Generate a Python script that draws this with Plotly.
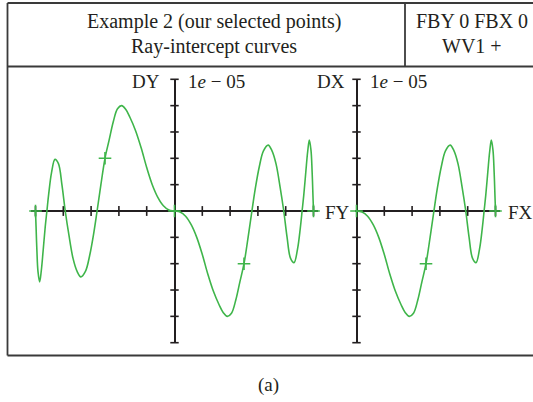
import plotly.graph_objects as go

# Relative field (FY) and transverse ray error DY (units of 1e-05)
FY = [-1.0, -0.996, -0.99, -0.982, -0.97, -0.958, -0.945, -0.93, -0.918, -0.905,
      -0.885, -0.86, -0.835, -0.81, -0.786, -0.76, -0.73, -0.70, -0.674, -0.64,
      -0.61, -0.58, -0.557, -0.53, -0.50, -0.47, -0.44, -0.41, -0.38, -0.35,
      -0.32, -0.28, -0.24, -0.20, -0.16, -0.12, -0.08, -0.04,
      0.0, 0.04, 0.08, 0.12, 0.16, 0.20, 0.24, 0.28, 0.32, 0.35, 0.38, 0.41,
      0.44, 0.47, 0.50, 0.53, 0.557, 0.58, 0.61, 0.64, 0.674, 0.70, 0.73, 0.76,
      0.786, 0.81, 0.835, 0.86, 0.885, 0.905, 0.918, 0.93, 0.945, 0.958, 0.97,
      0.982, 0.99, 0.996, 1.0]
DY = [0.0, -0.6, -1.5, -2.3, -2.69, -2.25, -1.5, -0.6, 0.0, 0.65,
      1.45, 1.96, 1.8, 1.0, 0.0, -0.9, -1.8, -2.3, -2.5, -2.28,
      -1.68, -0.81, 0.0, 0.98, 2.0, 2.7, 3.4, 3.88, 4.0, 3.85,
      3.55, 3.05, 2.4, 1.65, 1.0, 0.52, 0.2, 0.04,
      0.0, -0.04, -0.2, -0.52, -1.0, -1.65, -2.4, -3.05, -3.55, -3.85, -4.0, -3.88,
      -3.4, -2.7, -2.0, -0.98, 0.0, 0.81, 1.68, 2.28, 2.5, 2.3, 1.8, 0.9,
      0.0, -1.0, -1.8, -1.96, -1.45, -0.65, 0.0, 0.6, 1.5, 2.25, 2.69,
      2.3, 1.5, 0.6, 0.0]

# Relative field (FX) and transverse ray error DX (units of 1e-05)
FX = [0.0, 0.04, 0.08, 0.12, 0.16, 0.20, 0.24, 0.28, 0.32, 0.35, 0.38, 0.41,
      0.44, 0.47, 0.50, 0.53, 0.557, 0.58, 0.61, 0.64, 0.674, 0.70, 0.73, 0.76,
      0.786, 0.81, 0.835, 0.86, 0.885, 0.905, 0.918, 0.93, 0.945, 0.958, 0.97,
      0.982, 0.99, 0.996, 1.0]
DX = [0.0, -0.04, -0.2, -0.52, -1.0, -1.65, -2.4, -3.05, -3.55, -3.85, -4.0, -3.88,
      -3.4, -2.7, -2.0, -0.98, 0.0, 0.81, 1.68, 2.28, 2.5, 2.3, 1.8, 0.9,
      0.0, -1.0, -1.8, -1.96, -1.45, -0.65, 0.0, 0.6, 1.5, 2.25, 2.69,
      2.3, 1.5, 0.6, 0.0]

# Traced field points marked with "+"
FY_PTS = [-1.0, -0.5, 0.0, 0.5, 1.0]
DY_PTS = [0.0, 2.0, 0.0, -2.0, 0.0]
FX_PTS = [0.0, 0.5, 1.0]
DX_PTS = [0.0, -2.0, 0.0]

# Axis tick positions
FY_TICKS = [-1.0, -0.8, -0.6, -0.4, -0.2, 0.2, 0.4, 0.6, 0.8, 1.0]
FX_TICKS = [0.2, 0.4, 0.6, 0.8, 1.0]
D_TICKS = [-5, -4, -3, -2, -1, 1, 2, 3, 4, 5]

W, H = 533, 402
GREEN = "#3fb54a"
INK = "#231f20"
FONT = "Liberation Serif"


def px(x):
    return x / W


def py(y):
    return 1 - y / H


# pixel geometry of the two plotting panels
x0_left, x0_right, unit = 174.5, 356.5, 139.0
y_top, y_bot = 79.3, 342.7
pad = 0.03

fig = go.Figure()

# tick marks on the horizontal axes
fig.add_trace(go.Scatter(x=FY_TICKS, y=[0] * len(FY_TICKS), mode="markers",
                         marker=dict(symbol="line-ns", size=7, line=dict(color=INK, width=1.6)),
                         xaxis="x", yaxis="y", cliponaxis=False, hoverinfo="skip"))
fig.add_trace(go.Scatter(x=FX_TICKS, y=[0] * len(FX_TICKS), mode="markers",
                         marker=dict(symbol="line-ns", size=7, line=dict(color=INK, width=1.6)),
                         xaxis="x2", yaxis="y2", cliponaxis=False, hoverinfo="skip"))
# tick marks on the vertical axes
fig.add_trace(go.Scatter(x=[0] * len(D_TICKS), y=D_TICKS, mode="markers",
                         marker=dict(symbol="line-ew", size=6, line=dict(color=INK, width=1.6)),
                         xaxis="x", yaxis="y", cliponaxis=False, hoverinfo="skip"))
fig.add_trace(go.Scatter(x=[0] * len(D_TICKS), y=D_TICKS, mode="markers",
                         marker=dict(symbol="line-ew", size=6, line=dict(color=INK, width=1.6)),
                         xaxis="x2", yaxis="y2", cliponaxis=False, hoverinfo="skip"))

# ray-intercept curves
curve_line = dict(color=GREEN, width=1.6, shape="spline", smoothing=1.0)
fig.add_trace(go.Scatter(x=FY, y=DY, mode="lines", line=curve_line,
                         xaxis="x", yaxis="y", cliponaxis=False))
fig.add_trace(go.Scatter(x=FX, y=DX, mode="lines", line=curve_line,
                         xaxis="x2", yaxis="y2", cliponaxis=False))
plus = dict(symbol="cross-thin", size=9, line=dict(color=GREEN, width=1.6))
fig.add_trace(go.Scatter(x=FY_PTS, y=DY_PTS, mode="markers", marker=plus,
                         xaxis="x", yaxis="y", cliponaxis=False))
fig.add_trace(go.Scatter(x=FX_PTS, y=DX_PTS, mode="markers", marker=plus,
                         xaxis="x2", yaxis="y2", cliponaxis=False))

axis_common = dict(showgrid=False, showticklabels=False, ticks="", showline=False,
                   zeroline=True, zerolinecolor=INK, zerolinewidth=1.8, fixedrange=True)

fig.update_layout(
    width=W, height=H,
    margin=dict(l=0, r=0, t=0, b=0),
    paper_bgcolor="white", plot_bgcolor="rgba(0,0,0,0)",
    showlegend=False,
    xaxis=dict(domain=[px(x0_left - unit * (1 + pad)), px(x0_left + unit * (1 + pad))],
               range=[-1 - pad, 1 + pad], anchor="y", **axis_common),
    yaxis=dict(domain=[py(y_bot), py(y_top)], range=[-5, 5], anchor="x", **axis_common),
    xaxis2=dict(domain=[px(x0_right - unit * 0.01), px(x0_right + unit * (1 + pad))],
                range=[-0.01, 1 + pad], anchor="y2", **axis_common),
    yaxis2=dict(domain=[py(y_bot), py(y_top)], range=[-5, 5], anchor="x2", **axis_common),
)

# frame and header box
frame = dict(color="#3a3a3a", width=1.8)
fig.add_shape(type="line", xref="paper", yref="paper", x0=px(7.5), x1=px(7.5), y0=py(3), y1=py(355.5), line=frame)
fig.add_shape(type="line", xref="paper", yref="paper", x0=px(7.5), x1=1.02, y0=py(3), y1=py(3), line=frame)
fig.add_shape(type="line", xref="paper", yref="paper", x0=px(7.5), x1=1.02, y0=py(66.5), y1=py(66.5), line=frame)
fig.add_shape(type="line", xref="paper", yref="paper", x0=px(7.5), x1=1.02, y0=py(355.5), y1=py(355.5), line=frame)
fig.add_shape(type="line", xref="paper", yref="paper", x0=px(405), x1=px(405), y0=py(3), y1=py(66.5), line=frame)


def label(text, x, y, xanchor="center", size=19):
    fig.add_annotation(text=text, x=px(x), y=py(y), xref="paper", yref="paper",
                       xanchor=xanchor, yanchor="middle", showarrow=False,
                       font=dict(family=FONT, size=size, color=INK))


label("Example 2 (our selected points)", 214, 21, size=20)
label("Ray-intercept curves", 214, 46, size=20)
label("FBY 0 FBX 0", 472, 21, size=20)
label("WV1 +", 472, 46, size=20)
label("DY", 162, 81, "right")
label("1<i>e</i> − 05", 186, 81, "left")
label("FY", 323, 212, "left")
label("DX", 347, 81, "right")
label("1<i>e</i> − 05", 368, 81, "left")
label("FX", 506, 212, "left")
label("(a)", 268, 385, size=19)

fig.write_html("out.html")
